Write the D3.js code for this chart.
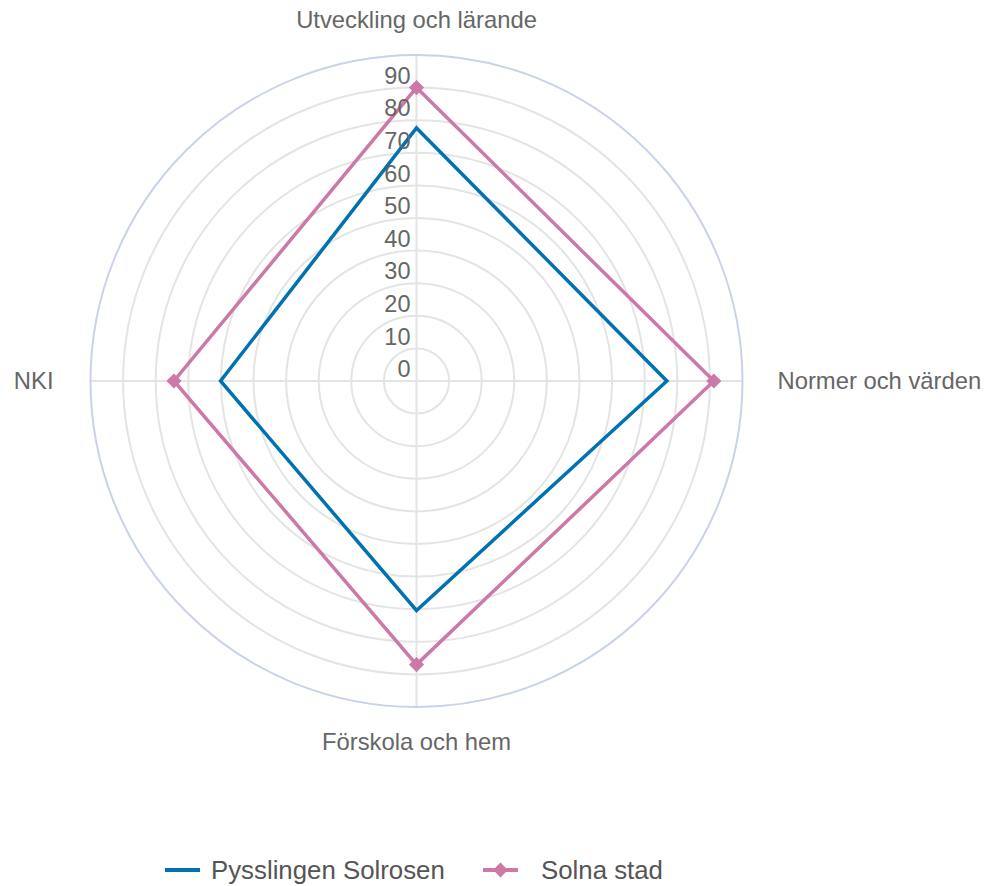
<!DOCTYPE html>
<html><head><meta charset="utf-8">
<script src="https://cdn.jsdelivr.net/npm/d3@7"></script>
<style>body{margin:0;background:#fff;font-family:"Liberation Sans",Arial,sans-serif}</style>
</head><body><svg id="c" width="984" height="886"></svg>
<script>
const categories = ["Utveckling och lärande", "Normer och värden", "Förskola och hem", "NKI"];
const seriesNames = ["Pysslingen Solrosen", "Solna stad"];
const pysslingen = [77.6, 76.8, 70.4, 60.1];
const solna = [90, 91.2, 87, 74.4];
const ticks = [0, 10, 20, 30, 40, 50, 60, 70, 80, 90];
const colors = ["#0072b2", "#cc79a7"];

const svg = d3.select("#c");
const cx = 416.5, cy = 381;
const r = d3.scaleLinear().domain([0, 100]).range([0, 326]);
const ang = i => -Math.PI/2 + i * 2*Math.PI/categories.length;
const g = svg.append("g").attr("transform", `translate(${cx},${cy})`);

g.selectAll("circle.ring").data(ticks.filter(t=>t>0)).join("circle")
  .attr("r", d=>r(d)).attr("fill","none").attr("stroke","#e4e4e4").attr("stroke-width",2);
g.selectAll("line.spoke").data(categories).join("line")
  .attr("x1",0).attr("y1",0)
  .attr("x2",(d,i)=>r(100)*Math.cos(ang(i))).attr("y2",(d,i)=>r(100)*Math.sin(ang(i)))
  .attr("stroke","#e4e4e4").attr("stroke-width",2);
g.append("circle").attr("r", r(100)).attr("fill","none").attr("stroke","#c8d2e8").attr("stroke-width",2);

const series = [pysslingen, solna];
const line = d3.lineRadial().angle((d,i)=>i*2*Math.PI/categories.length).radius(d=>r(d)).curve(d3.curveLinearClosed);
series.forEach((s,k)=>{
  g.append("path").attr("d", line(s)).attr("fill","none").attr("stroke",colors[k]).attr("stroke-width",3.5).attr("stroke-linejoin","miter");
});
g.selectAll("path.mk").data(solna).join("path")
  .attr("d", d3.symbol(d3.symbolSquare, 115)())
  .attr("transform",(d,i)=>`translate(${r(d)*Math.cos(ang(i))},${r(d)*Math.sin(ang(i))}) rotate(45)`)
  .attr("fill",colors[1]);

g.selectAll("text.tick").data(ticks).join("text")
  .attr("x",-6).attr("y",d=>-r(d)-12).attr("dy","0.35em")
  .attr("text-anchor","end").attr("font-size",23.5).attr("fill","#666").text(d=>d);

const lab = [
  {x:0, y:-361, a:"middle"},
  {x:361, y:0, a:"start"},
  {x:0, y:361, a:"middle"},
  {x:-363, y:0, a:"end"}
];
g.selectAll("text.cat").data(categories).join("text")
  .attr("x",(d,i)=>lab[i].x).attr("y",(d,i)=>lab[i].y).attr("dy","0.35em")
  .attr("text-anchor",(d,i)=>lab[i].a).attr("font-size",23.8).attr("fill","#666").text(d=>d);

const leg = svg.append("g").attr("transform","translate(0,870)");
const lx = [165, 483];
seriesNames.forEach((n,k)=>{
  leg.append("line").attr("x1",lx[k]).attr("x2",lx[k]+35).attr("y1",0).attr("y2",0).attr("stroke",colors[k]).attr("stroke-width",4);
  if(k===1) leg.append("path").attr("d",d3.symbol(d3.symbolSquare,110)()).attr("transform",`translate(${lx[k]+17.5},0) rotate(45)`).attr("fill",colors[k]);
  leg.append("text").attr("x",lx[k]+46 + (k===1?12:0)).attr("y",0).attr("dy","0.35em").attr("font-size",25.8).attr("fill","#555").text(n);
});
</script></body></html>
